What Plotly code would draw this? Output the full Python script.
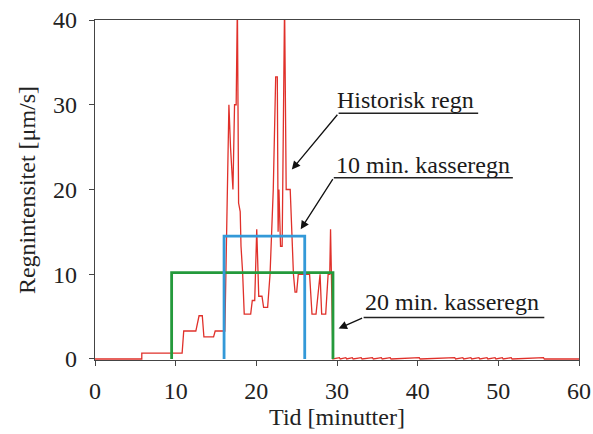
import plotly.graph_objects as go

# Historisk regn (red)
hist_t = [0, 5.8, 5.8, 10.8, 11.0, 12.5, 12.9, 13.3, 13.5, 14.7, 14.9, 15.9, 16.1,
          16.6, 16.8, 17.1, 17.3, 17.5, 17.65, 17.8, 18.0, 18.1, 18.3, 18.5, 19.3, 19.5,
          19.8, 20.05, 20.3, 20.7, 20.9, 21.4, 21.7, 22.1, 22.4, 22.6, 22.7, 22.8, 23.0,
          23.2, 23.5, 23.7, 24.2, 24.6, 24.8, 25.0, 25.2, 26.6, 26.9, 27.4, 27.9, 28.1,
          28.6, 28.9, 29.1, 29.2, 29.35, 29.5,
          30.3, 30.4, 31.1, 31.2, 31.9, 32.0, 33.0, 33.1, 34.4, 34.5,
          35.5, 35.6, 36.6, 36.7, 40.2, 40.3, 44.6, 44.7, 45.6, 45.7,
          46.6, 46.7, 47.6, 47.7, 48.6, 48.7, 49.6, 49.7, 50.5, 50.6,
          51.6, 51.7, 55.6, 55.7, 60]
hist_v = [0, 0, 0.7, 0.7, 3.3, 3.3, 5.1, 5.1, 2.6, 2.6, 3.3, 3.3, 3.3,
          30, 25, 20, 30, 30, 42, 18.4, 17.4, 13.3, 10.2, 5.3, 5.3, 6.9,
          6.9, 15.3, 7.4, 7.4, 6.1, 6.1, 10, 20, 33.3, 33.3, 15, 20, 13.3,
          13.3, 42, 20, 20, 10, 7.9, 7.9, 10, 10, 5.3, 5.3, 10, 5.3,
          5.3, 10, 10, 15.3, 7.4, 0,
          0.15, 0, 0.15, 0, 0.15, 0, 0.15, 0, 0.15, 0,
          0.15, 0, 0.15, 0, 0.15, 0, 0.15, 0, 0.15, 0,
          0.15, 0, 0.15, 0, 0.15, 0, 0.15, 0, 0.15, 0,
          0.15, 0, 0.15, 0, 0]

# 10 min. kasseregn (blue)
box10_t = [16, 16, 26, 26]
box10_v = [0, 14.5, 14.5, 0]

# 20 min. kasseregn (green)
box20_t = [9.5, 9.5, 29.5, 29.5]
box20_v = [0, 10.2, 10.2, 0]

x_ticks = [0, 10, 20, 30, 40, 50, 60]
y_ticks = [0, 10, 20, 30, 40]

FONT = "Liberation Serif, Times New Roman, serif"

fig = go.Figure()
fig.add_trace(go.Scatter(x=hist_t, y=hist_v, mode="lines",
                         line=dict(color="#e0302a", width=1.3), name="Historisk regn"))
fig.add_trace(go.Scatter(x=box20_t, y=box20_v, mode="lines",
                         line=dict(color="#249a3c", width=2.8), name="20 min. kasseregn"))
fig.add_trace(go.Scatter(x=box10_t, y=box10_v, mode="lines",
                         line=dict(color="#3399d8", width=2.8), name="10 min. kasseregn"))

labels = [
    # text, text x, text y, underline x0, x1, y, arrow target x, y
    ("Historisk regn", 38.5, 30.6, 30.2, 47.5, 29.0, 24.4, 22.35),
    ("10 min. kasseregn", 40.6, 22.9, 29.6, 51.8, 21.4, 25.5, 15.3),
    ("20 min. kasseregn", 44.3, 6.74, 33.3, 55.7, 4.9, 30.2, 3.6),
]
for txt, tx, ty, x0, x1, uy, axx, axy in labels:
    fig.add_annotation(x=tx, y=ty, text=txt, showarrow=False,
                       font=dict(family=FONT, size=24, color="#1a1a1a"))
    fig.add_shape(type="line", x0=x0, x1=x1, y0=uy, y1=uy,
                  line=dict(color="#222222", width=1.5))
    fig.add_annotation(x=axx, y=axy, ax=x0, ay=uy, axref="x", ayref="y",
                       text="", showarrow=True, arrowhead=2, arrowsize=1.3,
                       arrowwidth=1.3, arrowcolor="#111111")

axis_common = dict(showgrid=False, zeroline=False, showline=True, linecolor="#444444",
                   linewidth=1.3, mirror=True, ticks="outside", ticklen=5,
                   tickcolor="#444444", tickfont=dict(family=FONT, size=24, color="#222222"),
                   layer="below traces", automargin=False)

fig.update_xaxes(range=[0, 60], tickvals=x_ticks, ticklabelstandoff=4, **axis_common,
                 title=dict(text="Tid [minutter]", font=dict(family=FONT, size=24, color="#222222"),
                            standoff=2))
fig.update_yaxes(range=[-0.12, 40], tickvals=y_ticks, ticklabelstandoff=7, **axis_common,
                 title=dict(text="Regnintensitet [μm/s]", font=dict(family=FONT, size=24, color="#222222"),
                            standoff=10))

fig.update_layout(width=593, height=434, showlegend=False,
                  margin=dict(l=95, r=14, t=20, b=74),
                  plot_bgcolor="white", paper_bgcolor="white")

fig.write_html("out.html", config={"displayModeBar": False},
               post_script="document.body.style.margin='0px';document.body.style.overflow='hidden';")
